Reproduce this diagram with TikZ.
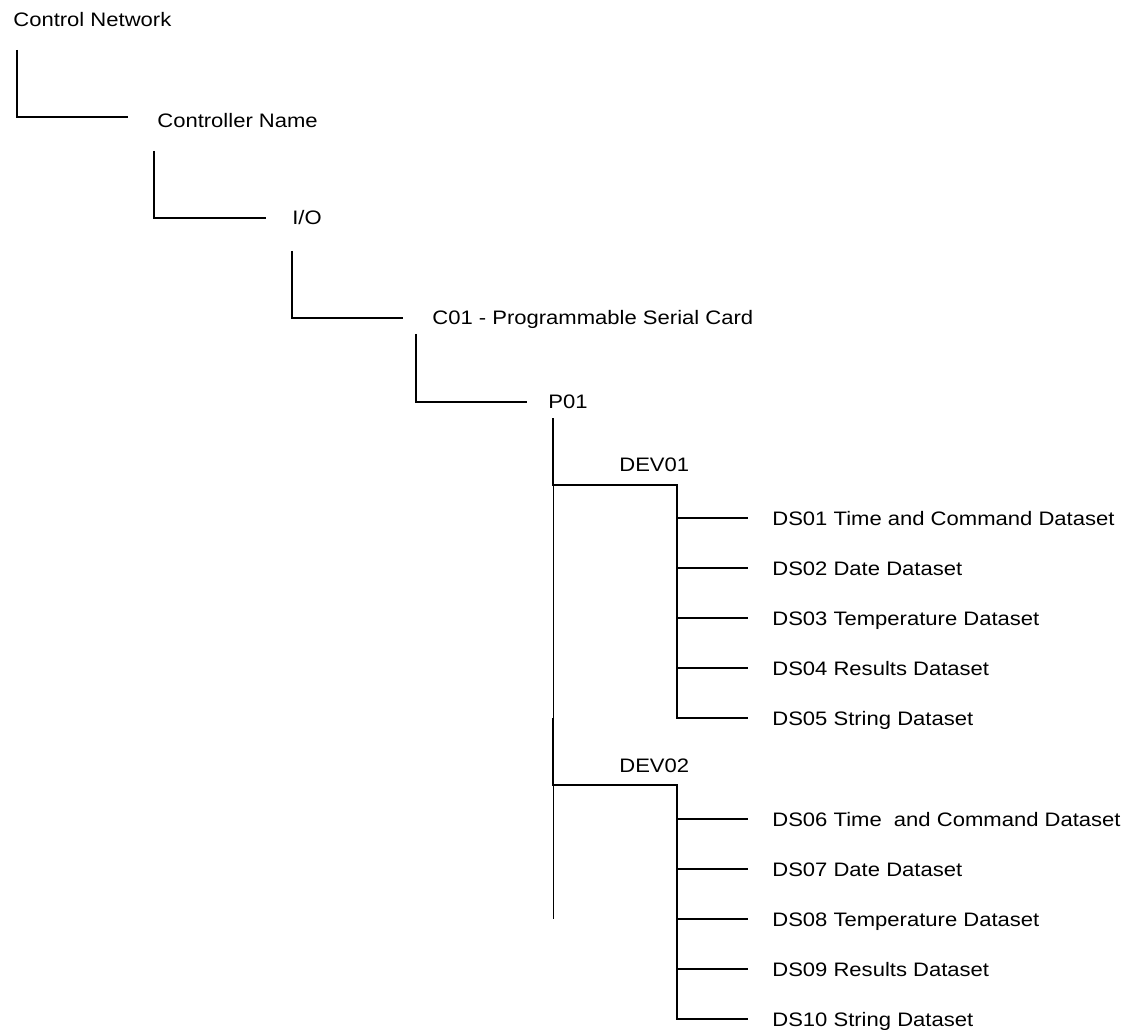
\documentclass[tikz,border=0pt]{standalone}
\usepackage{fontspec}
\newfontfamily\treefont[FakeStretch=1.13]{Liberation Sans}
\tikzset{entry/.style={anchor=base west,inner sep=0pt,text height=0.3cm,text depth=0.02cm,font=\treefont\fontsize{11.1}{13}\selectfont}}
\tikzset{branch/.style={line width=0.04cm}}
\tikzset{guide/.style={line width=0.02cm}}
\colorlet{bg}{white}
\begin{document}
\begin{tikzpicture}[x=0.02cm,y=-0.02cm]
	    \fill[bg] (0,0) rectangle (1142,1030);
	    \node[entry] (net) at (13,27) {Control Network};
	    \node[entry,text height=0.46cm] (ctrl) at (157,128) {Controller Name};
	    \node[entry] (io) at (292,225) {I/O};
	    \node[entry] (card) at (432,325) {C01 - Programmable Serial Card};
	    \node[entry,text height=0.26cm] (port) at (548,408) {P01};
	    \node[entry] (dev1) at (619,471) {DEV01};
	    \node[entry] (dev2) at (619,772) {DEV02};
	    \foreach \id/\txt [count=\k from 0] in {01/Time and Command Dataset, 02/Date Dataset,
		03/Temperature Dataset, 04/Results Dataset, 05/String Dataset}
		\node[entry] (ds\id) at (772,525+50*\k) {DS\id\ \txt};
	    \foreach \id/\txt [count=\k from 0] in {06/Time\ \ and Command Dataset, 07/Date Dataset,
		08/Temperature Dataset, 09/Results Dataset, 10/String Dataset}
		\node[entry] (ds\id) at (772,826+50*\k) {DS\id\ \txt};
	    \coordinate (e1) at (17,50);
	    \coordinate (e2) at (154,151);
	    \coordinate (e3) at (292,251);
	    \coordinate (e4) at (416,334);
	    \coordinate (e5) at (553,418);
	    \coordinate (e6) at (553,718);
	    \coordinate (j1) at (677,485);
	    \coordinate (j2) at (677,785);
	    \coordinate (g2) at (553,919);
	    \draw[branch] (e1) |- ([xshift=-0.58cm]ctrl.west);
	    \draw[branch] (e2) |- ([xshift=-0.52cm]io.west);
	    \draw[branch] (e3) |- ([xshift=-0.58cm]card.west);
	    \draw[branch] (e4) |- ([xshift=-0.42cm]port.west);
	    \draw[branch] (e5) |- (j1) |- ([xshift=-0.49cm]ds05.west);
	    \draw[branch] (e6) |- (j2) |- ([xshift=-0.49cm]ds10.west);
	    \foreach \id in {01,02,03,04}
		\draw[branch] (j1 |- ds\id.west) -- ([xshift=-0.49cm]ds\id.west);
	    \foreach \id in {06,07,08,09}
		\draw[branch] (j2 |- ds\id.west) -- ([xshift=-0.49cm]ds\id.west);
	    \draw[guide] (e5 |- j1) -- (e6);
	    \draw[guide] (e6 |- j2) -- (g2);
        \end{tikzpicture}
\end{document}
